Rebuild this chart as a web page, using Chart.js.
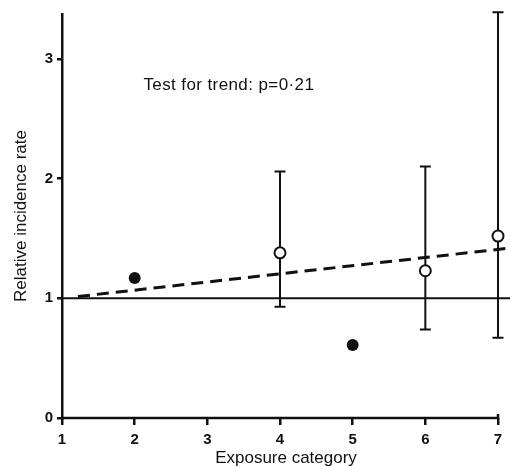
<!DOCTYPE html>
<html>
<head>
<meta charset="utf-8">
<script src="https://cdn.jsdelivr.net/npm/chart.js@4.4.1/dist/chart.umd.min.js"></script>
<style>
  html, body { margin: 0; padding: 0; background: #fff; }
  #wrap { width: 510px; height: 467px; position: relative; }
</style>
</head>
<body>
<div id="wrap"><canvas id="chart"></canvas></div>
<script>
// values
const xTicks = [1, 2, 3, 4, 5, 6, 7];
const yTicks = [0, 1, 2, 3];

const filledX = [2, 5];
const filledY = [1.17, 0.61];

const openX = [4, 6, 7];
const openY = [1.38, 1.23, 1.52];
const ciLow = [0.93, 0.74, 0.67];
const ciHigh = [2.06, 2.10, 3.39];

const refX = [1, 7.165];
const refY = [1, 1];

const trendX = [1.22, 7.165];
const trendY = [1.015, 1.42];

const noteText = 'Test for trend: p=0\u00b721';
const notePos = [2.12, 2.78];

const toPts = (xs, ys) => xs.map((x, i) => ({ x, y: ys[i] }));
const FONT = '"Liberation Sans", Arial, sans-serif';

// error bars, x axis segment (1..7) and the trend note
const extras = {
  id: 'extras',
  beforeDatasetsDraw(chart) {
    const { ctx, scales: { x, y } } = chart;
    ctx.save();
    ctx.strokeStyle = '#111';
    ctx.lineWidth = 2;
    const cap = 5.5;
    openX.forEach((v, i) => {
      const px = x.getPixelForValue(v);
      const lo = y.getPixelForValue(ciLow[i]);
      const hi = y.getPixelForValue(ciHigh[i]);
      ctx.beginPath();
      ctx.moveTo(px, lo); ctx.lineTo(px, hi);
      ctx.moveTo(px - cap, lo); ctx.lineTo(px + cap, lo);
      ctx.moveTo(px - cap, hi); ctx.lineTo(px + cap, hi);
      ctx.stroke();
    });
    // bottom axis only spans categories 1..7
    const by = y.getPixelForValue(0);
    ctx.lineWidth = 2.5;
    ctx.beginPath();
    ctx.moveTo(x.getPixelForValue(xTicks[0]) - 1, by);
    ctx.lineTo(x.getPixelForValue(xTicks[xTicks.length - 1]), by);
    ctx.lineTo(x.getPixelForValue(xTicks[xTicks.length - 1]), by - 4);
    ctx.stroke();

    ctx.fillStyle = '#111';
    ctx.font = '17px ' + FONT;
    ctx.letterSpacing = '0.4px';
    ctx.textBaseline = 'middle';
    ctx.textAlign = 'left';
    ctx.fillText(noteText, x.getPixelForValue(notePos[0]), y.getPixelForValue(notePos[1]));
    ctx.restore();
  }
};

new Chart(document.getElementById('chart'), {
  type: 'scatter',
  data: {
    datasets: [
      {
        label: 'reference',
        data: toPts(refX, refY),
        showLine: true,
        borderColor: '#111',
        borderWidth: 2,
        pointRadius: 0
      },
      {
        label: 'trend',
        data: toPts(trendX, trendY),
        showLine: true,
        borderColor: '#111',
        borderWidth: 3,
        borderDash: [12, 7],
        pointRadius: 0
      },
      {
        label: 'open',
        data: toPts(openX, openY),
        pointRadius: 5.5,
        pointBackgroundColor: '#fff',
        pointBorderColor: '#111',
        pointBorderWidth: 2
      },
      {
        label: 'filled',
        data: toPts(filledX, filledY),
        pointRadius: 6,
        pointBackgroundColor: '#111',
        pointBorderColor: '#111',
        pointBorderWidth: 0
      }
    ]
  },
  options: {
    responsive: true,
    maintainAspectRatio: false,
    animation: false,
    clip: false,
    // no auto padding for point overflow: plot runs to the canvas edge
    layout: { autoPadding: false, padding: { top: 14, right: 0, left: 0, bottom: 0 } },
    plugins: { legend: { display: false }, tooltip: { enabled: false } },
    scales: {
      x: {
        type: 'linear',
        min: 1,
        max: 7.165,
        afterBuildTicks: s => { s.ticks = xTicks.map(v => ({ value: v })); },
        afterFit: s => { s.height = 49; s.paddingLeft = 0; s.paddingRight = 0; },
        border: { display: false },
        grid: { drawOnChartArea: false, color: '#111', lineWidth: 2.5, tickLength: 7 },
        ticks: { color: '#111', padding: 6, font: { family: FONT, size: 15, weight: 'bold' } },
        title: {
          display: true,
          text: 'Exposure category',
          color: '#111',
          padding: { top: 0, bottom: -2 },
          font: { family: FONT, size: 17 }
        }
      },
      y: {
        min: 0,
        max: 3.375,
        afterBuildTicks: s => { s.ticks = yTicks.map(v => ({ value: v })); },
        afterFit: s => { s.width = 62; },
        border: { display: true, color: '#111', width: 2.5 },
        grid: { drawOnChartArea: false, color: '#111', lineWidth: 2.5, tickLength: 5 },
        ticks: { color: '#111', padding: 4, font: { family: FONT, size: 15, weight: 'bold' } },
        title: {
          display: true,
          text: 'Relative incidence rate',
          color: '#111',
          padding: { top: 11, bottom: 0 },
          font: { family: FONT, size: 17 }
        }
      }
    }
  },
  plugins: [extras]
});
</script>
</body>
</html>
